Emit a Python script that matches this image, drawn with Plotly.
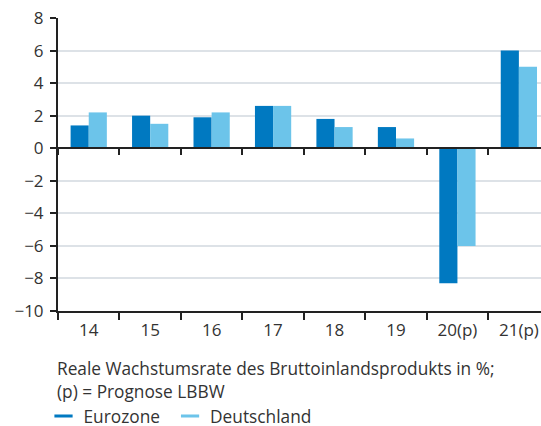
import plotly.graph_objects as go

categories = ["14", "15", "16", "17", "18", "19", "20(p)", "21(p)"]
eurozone = [1.4, 2.0, 1.9, 2.6, 1.8, 1.3, -8.3, 6.0]
deutschland = [2.2, 1.5, 2.2, 2.6, 1.3, 0.6, -6.0, 5.0]
y_ticks = [8, 6, 4, 2, 0, -2, -4, -6, -8, -10]
caption1 = "Reale Wachstumsrate des Bruttoinlandsprodukts in %;"
caption2 = "(p) = Prognose LBBW"

C_EURO = "#0079c1"
C_DE = "#6cc4ea"
TXT = "#333333"
FONT = "Open Sans"
FS = 17
FS_CAP = 17.3

fig = go.Figure()
fig.add_trace(go.Bar(x=categories, y=eurozone, name="Eurozone", marker_color=C_EURO,
                     marker_line_width=0, showlegend=False))
fig.add_trace(go.Bar(x=categories, y=deutschland, name="Deutschland", marker_color=C_DE,
                     marker_line_width=0, showlegend=False))
# legend entries drawn as short lines
fig.add_trace(go.Scatter(x=[None], y=[None], mode="markers", name="Eurozone", legend="legend",
                         marker=dict(symbol="line-ew", size=13, line=dict(color=C_EURO, width=3))))
fig.add_trace(go.Scatter(x=[None], y=[None], mode="markers", name="Deutschland", legend="legend2",
                         marker=dict(symbol="line-ew", size=13, line=dict(color=C_DE, width=3))))
# helper trace for the zero-line axis with ticks
fig.add_trace(go.Scatter(x=categories, y=[0] * len(categories), xaxis="x2", mode="lines",
                         line=dict(width=0), opacity=0, showlegend=False, hoverinfo="skip"))

x_range = [-0.5, 7.36]
y0_pos = 10 / 18

legend_common = dict(orientation="h", xanchor="left", y=-0.359, yanchor="middle",
                     font=dict(size=FS_CAP, color=TXT), bgcolor="rgba(0,0,0,0)",
                     itemwidth=30, tracegroupgap=0)

fig.update_layout(
    width=541, height=426,
    margin=dict(l=58, r=0, t=18, b=115, autoexpand=False),
    paper_bgcolor="white", plot_bgcolor="white",
    font=dict(family=FONT, size=FS, color=TXT),
    barmode="group", bargap=0.41, bargroupgap=0,
    xaxis=dict(type="category", categoryorder="array", categoryarray=categories,
               range=x_range, showgrid=False, zeroline=False,
               showline=True, linecolor="#222", linewidth=2,
               ticks="outside", tickson="boundaries", ticklen=7, tickwidth=2, tickcolor="#222",
               ticklabelstandoff=3, tickfont=dict(size=FS, color=TXT)),
    xaxis2=dict(type="category", categoryorder="array", categoryarray=categories,
                range=x_range, overlaying="x", anchor="free", position=y0_pos,
                showgrid=False, zeroline=False, showline=True, linecolor="#222", linewidth=2,
                ticks="outside", tickson="boundaries", ticklen=6, tickwidth=2, tickcolor="#222",
                showticklabels=False),
    yaxis=dict(range=[-10, 8], tickmode="array", tickvals=y_ticks,
               showgrid=True, gridcolor="#dde2e7", gridwidth=2, zeroline=False,
               showline=True, linecolor="#222", linewidth=2,
               ticks="outside", ticklen=6, tickwidth=2, tickcolor="#222",
               ticklabelstandoff=3, tickfont=dict(size=FS, color=TXT)),
    legend=dict(x=-0.03, **legend_common),
    legend2=dict(x=0.232, **legend_common),
    annotations=[
        dict(text=caption1, xref="paper", yref="paper", x=-0.006, y=-0.195,
             xanchor="left", yanchor="middle", showarrow=False, font=dict(size=FS_CAP, color=TXT)),
        dict(text=caption2, xref="paper", yref="paper", x=-0.006, y=-0.274,
             xanchor="left", yanchor="middle", showarrow=False, font=dict(size=FS_CAP, color=TXT)),
    ],
)

fig.write_html("out.html", config={"displayModeBar": False},
               post_script="document.body.style.margin='0';document.body.style.overflow='hidden';")
